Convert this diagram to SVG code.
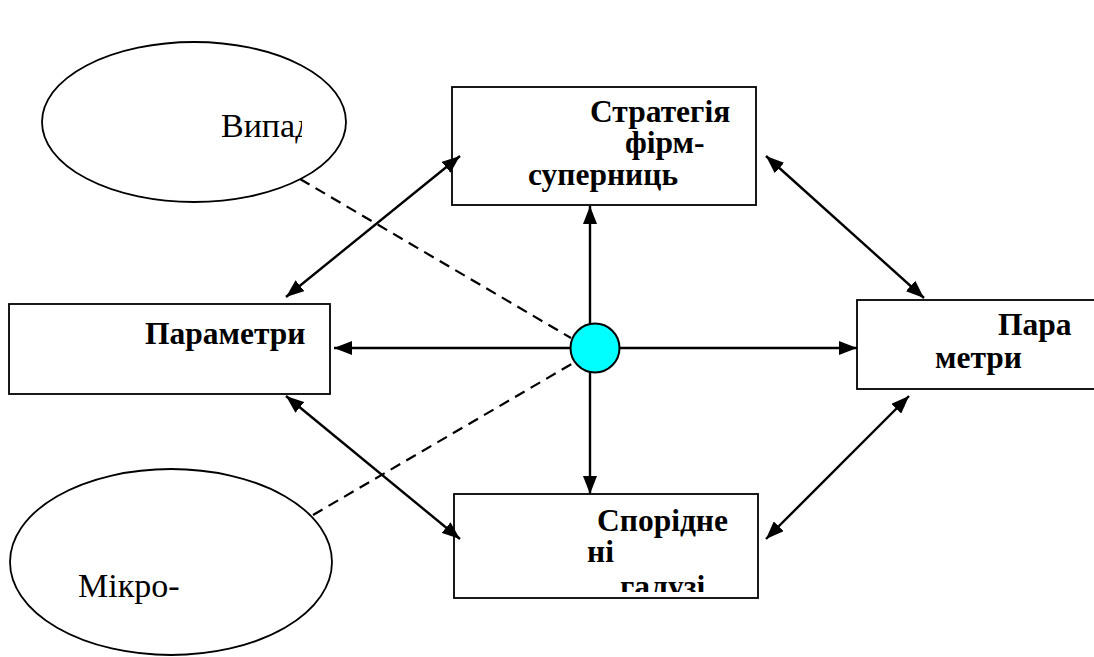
<svg xmlns="http://www.w3.org/2000/svg" width="1094" height="657" viewBox="0 0 1094 657">
  <style>
    .box { fill: #fff; stroke: #000; stroke-width: 1.8; }
    .oval { fill: #fff; stroke: #000; stroke-width: 1.8; }
    .lbl { font-family: "Liberation Serif", "Times New Roman", serif; font-size: 31.5px; font-weight: bold; fill: #000; }
    .olbl { font-family: "Liberation Serif", "Times New Roman", serif; font-size: 34px; fill: #000; }
    .arr { stroke: #000; stroke-width: 2.4; fill: none; marker-start: url(#head); marker-end: url(#head); }
    .one { stroke: #000; stroke-width: 2.4; fill: none; marker-end: url(#head); }
    .dash { stroke: #000; stroke-width: 2.2; fill: none; stroke-dasharray: 11 7; }
  </style>
  <defs>
    <marker id="head" viewBox="0 0 18 14" refX="18" refY="7" markerWidth="18" markerHeight="14" markerUnits="userSpaceOnUse" orient="auto-start-reverse">
      <path d="M0,0 L18,7 L0,14 Z" fill="#000"/>
    </marker>
    <clipPath id="clipChance"><rect x="40" y="40" width="262" height="170"/></clipPath>
    <clipPath id="clipRelated"><rect x="454" y="494" width="304" height="98"/></clipPath>
  </defs>

  <rect width="1094" height="657" fill="#fff"/>

  <!-- outer factors -->
  <g id="chance">
    <ellipse class="oval" cx="194" cy="122" rx="152" ry="80"/>
    <text class="olbl" x="221" y="137" clip-path="url(#clipChance)">Випад</text>
  </g>
  <g id="micro">
    <ellipse class="oval" cx="171" cy="562" rx="161" ry="93"/>
    <text class="olbl" x="78" y="597">Мікро-</text>
  </g>

  <!-- diamond boxes -->
  <g id="strategy">
    <rect class="box" x="452" y="87" width="304" height="118"/>
    <text class="lbl" x="590" y="122">Стратегія</text>
    <text class="lbl" x="625" y="153">фірм-</text>
    <text class="lbl" x="528" y="185">суперниць</text>
  </g>
  <g id="params-left">
    <rect class="box" x="9" y="304" width="321" height="90"/>
    <text class="lbl" x="145" y="344">Параметри</text>
  </g>
  <g id="params-right">
    <rect class="box" x="857" y="300" width="250" height="89"/>
    <text class="lbl" x="998" y="335">Пара</text>
    <text class="lbl" x="935" y="368">метри</text>
  </g>
  <g id="related">
    <rect class="box" x="454" y="494" width="304" height="104"/>
    <g clip-path="url(#clipRelated)">
      <text class="lbl" x="597" y="531">Спорідне</text>
      <text class="lbl" x="587" y="562">ні</text>
      <text class="lbl" x="620" y="597">галузі</text>
    </g>
  </g>

  <!-- connectors -->
  <g id="connectors">
    <line class="dash" x1="300" y1="179" x2="571" y2="338"/>
    <line class="dash" x1="313" y1="515" x2="575" y2="362"/>
    <line class="one" x1="590" y1="348" x2="590" y2="206"/>
    <line class="one" x1="590" y1="348" x2="590" y2="494"/>
    <line class="one" x1="595" y1="348" x2="334" y2="348"/>
    <line class="one" x1="595" y1="348" x2="857" y2="348"/>
    <line class="arr" x1="286" y1="297" x2="460" y2="156"/>
    <line class="arr" x1="766" y1="156" x2="924" y2="298"/>
    <line class="arr" x1="286" y1="396" x2="460" y2="539"/>
    <line class="arr" x1="766" y1="539" x2="909" y2="396"/>
  </g>

  <g id="hub">
    <circle cx="595" cy="348" r="24.5" fill="#00ffff" stroke="#000" stroke-width="2"/>
  </g>
</svg>
